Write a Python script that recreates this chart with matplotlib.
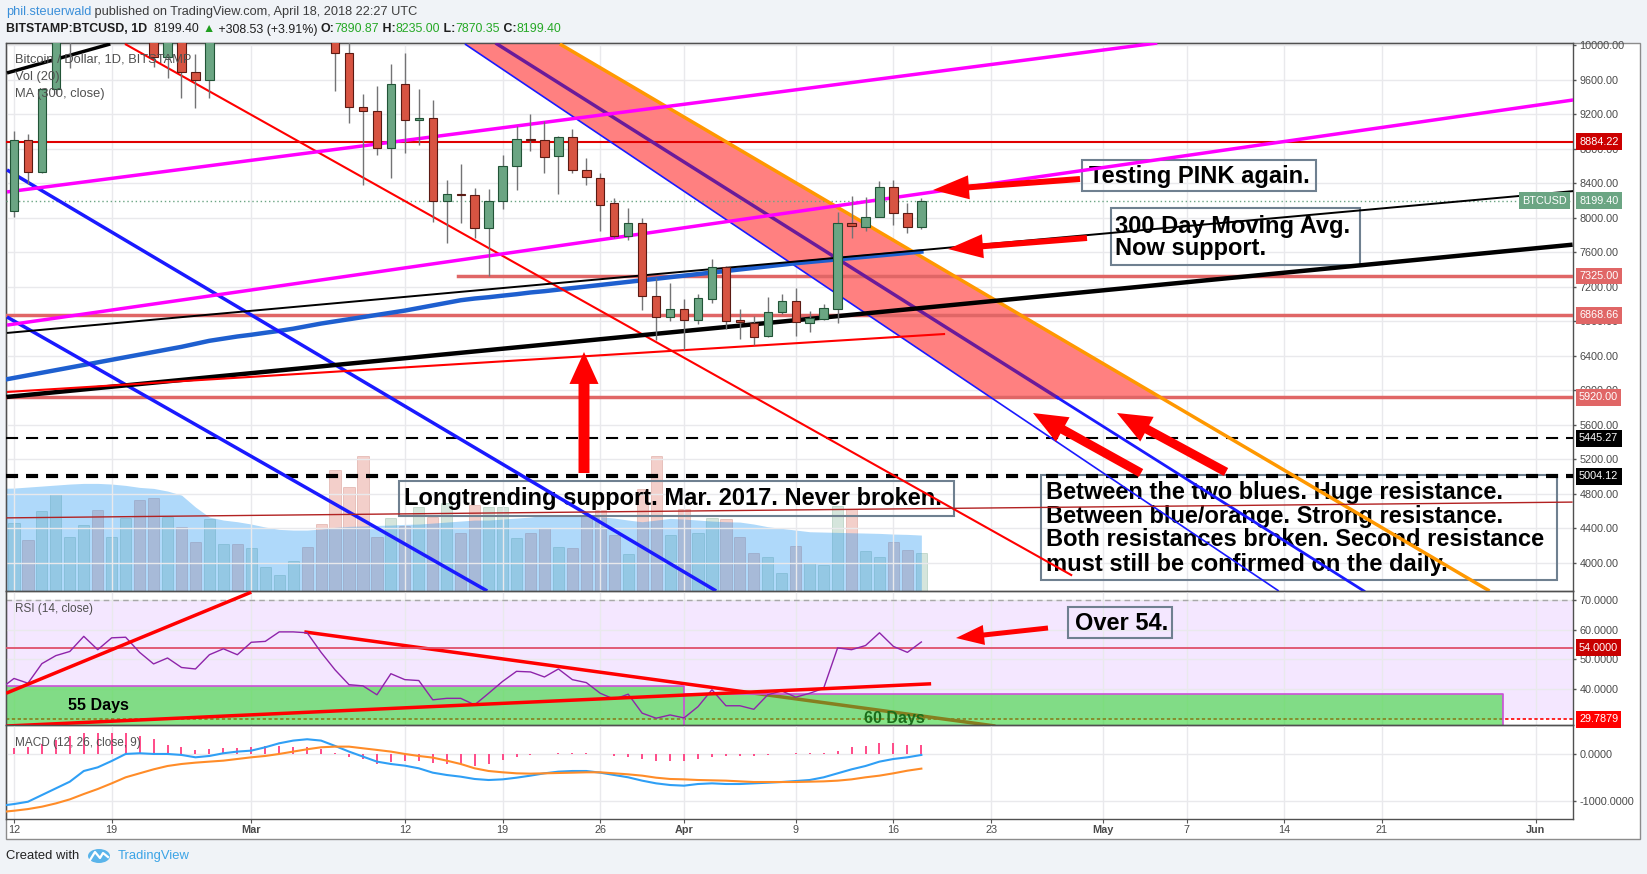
import numpy as np
import pandas as pd
import matplotlib
matplotlib.use("Agg")
import matplotlib.pyplot as plt
import matplotlib.dates as mdates
from matplotlib.patches import Rectangle, Polygon, Ellipse
from matplotlib.transforms import offset_copy
from matplotlib.ticker import FormatStrFormatter

W, H = 1647, 874
SANS = ["Liberation Sans", "DejaVu Sans"]
plt.rcParams["font.family"] = SANS

# ---------------- data (BITSTAMP:BTCUSD, 1D) ----------------
dates = pd.date_range("2018-02-12", "2018-04-18", freq="D")
# indicator lines also show the day before the first visible candle
ind_dates = pd.date_range("2018-02-11", "2018-04-18", freq="D")

opens = [8083, 8903, 8535, 9490, 10150, 10230, 11080, 10390, 11150, 11230, 10450, 9860, 10170, 9690, 9600, 10330, 10590,
         10320, 10900, 11030, 11440, 11490, 11420, 10720, 9910, 9290, 9240, 8806, 9548, 9134, 9160, 8199, 8273, 8262, 7880,
         8195, 8604, 8911, 8901, 8720, 8934, 8555, 8460, 8169, 7790, 7944, 7094, 6848,
         6941, 6816, 7060, 7427, 6816, 6778, 6634, 6913, 7040, 6785, 6825, 6944, 7937, 7898, 8014, 8361, 8060, 7890.87]
highs = [9010, 8972, 9510, 10200, 10300, 11090, 11270, 11250, 11790, 11300, 10930, 10440, 10480, 9900, 10480, 10880, 11070,
         11000, 11190, 11540, 11520, 11690, 11430, 10890, 10100, 9435, 9528, 9783, 9911, 9490, 9366, 8439, 8620, 8350, 8333,
         8727, 9065, 9204, 9117, 8950, 9030, 8697, 8518, 8227, 8111, 7995, 7304, 7245,
         7060, 7119, 7523, 7446, 6941, 6863, 7086, 7119, 7185, 6924, 7003, 8072, 8253, 8238, 8427, 8439, 8169, 8235.00]
lows = [8010, 8393, 8520, 9430, 9733, 10080, 10140, 10280, 11100, 10220, 9750, 9617, 9386, 9270, 9389, 10150, 10300,
        10240, 10800, 11000, 11050, 11390, 10580, 9470, 9103, 8381, 8728, 8460, 8755, 8844, 7956, 7709, 7940, 7770, 7330,
        8100, 8323, 8775, 8524, 8277, 8524, 8381, 7851, 7763, 7743, 6932, 6584, 6809,
        6468, 6769, 7010, 6712, 6592, 6526, 6614, 6887, 6630, 6676, 6816, 6778, 7770, 7851, 8007, 7918, 7828, 7870.35]
closes = [8903, 8535, 9490, 10150, 10230, 11080, 10390, 11150, 11230, 10450, 9860, 10170, 9690, 9600, 10330, 10590, 10320,
          10900, 11030, 11440, 11490, 11420, 10720, 9910, 9290, 9240, 8806, 9548, 9134, 9160, 8199, 8273, 8262, 7880, 8195,
          8604, 8911, 8898, 8709, 8934, 8555, 8468, 8149, 7790, 7944, 7094, 6855, 6941,
          6816, 7068, 7427, 6808, 6790, 6623, 6913, 7040, 6790, 6843, 6952, 7937, 7910, 8007, 8361, 8060, 7891, 8199.40]

volume = [20600, 15400, 24200, 29200, 16200, 19900, 24400, 16200, 21900, 27400, 27900, 22200, 19200, 14900, 21600, 14200,
          14200, 12900, 7400, 4900, 9200, 13400, 20200, 36400, 31200, 40600, 16200, 21900, 19600, 25200, 22200, 26600,
          17600, 25900, 25400, 25400, 15900, 17400, 18900, 13400, 12900, 22900, 24400, 16900, 11200, 30600, 40600, 16900,
          24600, 17400, 21900, 21600, 16400, 11600, 10400, 5600, 13600, 8600, 7900, 25600, 24600, 12200, 10200, 14900,
          12400, 11600]
vol_ma = [30900, 31000, 31300, 31600, 31900, 32200, 32400, 32400, 32200, 31800, 31200, 30900, 30100, 28900, 25300, 22300,
          21400, 20900, 20200, 19300, 18600, 18400, 18400, 18700, 19200, 19500, 19600, 19800, 19900, 20100, 20200, 20500,
          20800, 21100, 21400, 21400, 21700, 22000, 22300, 22900, 22900, 22800, 22600, 22400, 22000, 21400, 20900, 21400,
          21900, 21700, 21400, 21100, 20900, 20800, 20200, 19400, 18900, 18400, 17900, 17800, 17700, 17600, 17500, 17400,
          17200, 17100, 16900]
ma300 = [6115, 6145, 6175, 6205, 6235, 6265, 6295, 6325, 6355, 6385, 6415, 6445, 6475, 6505, 6540, 6575, 6600, 6625, 6645,
         6668, 6690, 6715, 6745, 6775, 6800, 6825, 6850, 6875, 6900, 6925, 6955, 6985, 7015, 7045, 7065, 7080, 7098, 7115,
         7135, 7150, 7168, 7186, 7204, 7222, 7240, 7258, 7276, 7294, 7312, 7330, 7348, 7366, 7384, 7402, 7420, 7438, 7456,
         7474, 7489, 7504, 7519, 7534, 7549, 7564, 7579, 7594, 7609]

rsi = [40.0, 43.6, 42.0, 48.6, 51.3, 52.7, 57.8, 53.3, 57.3, 57.5, 52.4, 48.5, 50.5, 47.3, 46.8, 51.6, 53.6, 51.6, 55.8,
       56.1, 59.3, 59.3, 59.0, 52.4, 46.5, 41.5, 41.1, 38.1, 45.2, 43.2, 42.9, 36.4, 36.9, 36.9, 34.7, 38.6, 42.6, 46.0,
       45.8, 44.1, 46.8, 43.2, 42.2, 38.6, 36.6, 38.3, 31.9, 30.2, 31.3, 30.3, 34.1, 39.8, 34.4, 34.4, 33.2, 38.1, 39.4,
       37.3, 38.6, 40.3, 53.9, 53.3, 54.7, 59.0, 54.4, 52.4, 55.9]

macd = [-1110, -1072, -1022, -878, -734, -590, -360, -281, -144, 7, 22, 7, 7, -14, -65, -36, 22, 58, 79, 151, 237, 295,
        324, 295, 180, 58, -50, -158, -209, -245, -302, -396, -446, -482, -532, -554, -540, -504, -460, -410, -374, -360,
        -360, -396, -446, -496, -568, -626, -662, -676, -640, -626, -640, -640, -626, -612, -597, -576, -554, -496, -410,
        -324, -252, -158, -101, -65, -14]
signal = [-1245, -1216, -1180, -1129, -1058, -971, -856, -748, -626, -496, -410, -324, -252, -209, -180, -158, -137, -101,
          -65, -36, 7, 58, 108, 151, 165, 165, 129, 94, 58, 7, -36, -72, -137, -209, -302, -360, -388, -410, -417, -410,
          -403, -396, -388, -388, -410, -432, -460, -504, -532, -540, -554, -561, -568, -583, -597, -597, -597, -597, -590,
          -583, -568, -540, -496, -460, -410, -353, -309]
hist = [130, 151, 223, 309, 396, 468, 468, 468, 468, 396, 324, 201, 151, 94, 108, 130, 130, 151, 180, 180, 151, 151, 108,
        36, -65, -108, -209, -158, -137, -137, -194, -209, -230, -252, -209, -122, -65, -14, 0, 22, 36, 36, 0, -29, -50,
        -108, -137, -137, -137, -108, -65, -36, -36, -36, -14, 0, 22, 22, 36, 79, 151, 180, 237, 237, 201, 201]

# horizontal levels drawn on the chart
level_red = 8884.22
levels_salmon = [7325.00, 6868.66, 5920.00]
level_7325_start = 31.8          # day offset where the 7325 line begins
levels_dashed = [5445.27, 5004.12]
last_price = 8199.40

# trend lines: (day offset from Feb 12, price) at both ends
line_black_top = [(-0.5, 9679), (6.9, 10015)]
line_red_fall = [(7.95, 10015), (75.8, 3855)]
line_blue_a = [(-0.5, 6851), (33.9, 3676)]
line_blue_b = [(-0.5, 8555), (50.3, 3676)]
band_low = [(32.3, 10015), (90.6, 3676)]
band_mid = [(34.6, 10015), (96.7, 3676)]
band_high = [(39.1, 10015), (105.7, 3676)]
band_floor = 5920.0
pink_upper = [(-0.5, 8300), (81.9, 10026)]
pink_lower = [(-0.5, 6757), (111.7, 9366)]
black_thin = [(-0.5, 6666), (111.7, 8310)]
black_thick = [(-0.55, 5924), (111.65, 7689)]
red_support = [(-0.5, 5982), (66.7, 6654)]
red_low = [(-0.55, 4523), (111.65, 4706)]

# RSI drawings
rsi_rise = [(-0.57, 38.6), (17.0, 72.7)]
rsi_fall = [(20.8, 59.3), (70.3, 27.56)]
rsi_base = [(-0.57, 27.56), (65.7, 41.8)]
box55 = (-3.0, 48.0, 41.2)       # start day, end day, top value
box60 = (48.0, 106.7, 38.3)
rsi_level = 54.0
rsi_low = 29.7879

tick_days = ["2018-02-12", "2018-02-19", "2018-03-01", "2018-03-12", "2018-03-19", "2018-03-26", "2018-04-01",
             "2018-04-09", "2018-04-16", "2018-04-23", "2018-05-01", "2018-05-07", "2018-05-14", "2018-05-21",
             "2018-06-01"]
tick_text = ["12", "19", "Mar", "12", "19", "26", "Apr", "9", "16", "23", "May", "7", "14", "21", "Jun"]

# ---------------- figure ----------------
fig = plt.figure(figsize=(W / 100, H / 100), dpi=100)
fig.patch.set_facecolor("#f0f3f7")


def box(x0, y0, x1, y1):
    return [x0 / W, 1 - y1 / H, (x1 - x0) / W, (y1 - y0) / H]


bg = fig.add_axes([0, 0, 1, 1], zorder=-5)
bg.set_xlim(0, W)
bg.set_ylim(H, 0)
bg.axis("off")
bg.add_patch(Rectangle((6, 43), 1634, 796, fc="white", ec="#8c8c8c", lw=1))

ov = fig.add_axes([0, 0, 1, 1], zorder=10)
ov.set_xlim(0, W)
ov.set_ylim(H, 0)
ov.axis("off")
PX = ov.transData

axv = fig.add_axes(box(6.3, 43, 1573, 591.4), zorder=1)
axv.axis("off")
ax = fig.add_axes(box(6.3, 43, 1573, 591.4), zorder=2, sharex=axv)
ax.patch.set_alpha(0)
rs = fig.add_axes(box(6.3, 591.4, 1573, 725), zorder=2, sharex=axv)
rs.patch.set_alpha(0)
md = fig.add_axes(box(6.3, 725, 1573, 819), zorder=2, sharex=axv)
md.patch.set_alpha(0)

xd = mdates.date2num(dates)
xi = mdates.date2num(ind_dates)
x0 = xd[0]
tick_x = mdates.date2num(pd.to_datetime(tick_days))


def seg(a, pts, **kw):
    (o0, p0), (o1, p1) = pts
    a.plot([x0 + o0, x0 + o1], [p0, p1], solid_capstyle="butt", **kw)


def at_price(pts, p):
    (o0, p0), (o1, p1) = pts
    return x0 + o0 + (p - p0) / (p1 - p0) * (o1 - o0)


# grids / axes styling
for a in (ax, rs, md):
    a.set_xticks(tick_x)
    a.grid(True, color="#e9e9ec", lw=1)
    a.set_axisbelow(True)
    a.yaxis.tick_right()
    a.tick_params(axis="y", length=2.5, width=1, color="#555555", labelsize=7.8, labelcolor="#4a4a4a", pad=2)
    for s in a.spines.values():
        s.set_color("#505050")
        s.set_linewidth(1)
for a in (ax, rs):
    a.tick_params(axis="x", length=0, labelbottom=False)
md.set_xticklabels(tick_text)
md.tick_params(axis="x", length=3, color="#555555", labelsize=7.8, labelcolor="#4a4a4a", pad=1.5)
for lbl, t in zip(md.get_xticklabels(), tick_text):
    if t.isalpha():
        lbl.set_fontweight("bold")

# ---------------- volume ----------------
o, hi, lo, c = map(np.array, (opens, highs, lows, closes))
up = c >= o
axv.bar(xd, volume, width=0.8, color=["#6ba583" if u else "#d75442" for u in up], alpha=0.28,
        edgecolor=["#4c8a66" if u else "#b04a3c" for u in up], lw=0.6)
axv.fill_between(xi, vol_ma, color="#2196f3", alpha=0.36, lw=0)
axv.set_ylim(0, 164520)

# ---------------- price pane ----------------
ax.axhline(level_red, color="#e00000", lw=1.5, zorder=3)
ax.plot([x0 + level_7325_start, x0 + 120], [levels_salmon[0]] * 2, color="#e06666", lw=2.5, zorder=3)
for lv in levels_salmon[1:]:
    ax.axhline(lv, color="#e06666", lw=2.5, zorder=3)
ax.axhline(levels_dashed[0], color="black", lw=1.5, ls=(0, (5.8, 3.8)), zorder=3)
ax.axhline(levels_dashed[1], color="black", lw=3, ls=(0, (2.9, 1.9)), zorder=3)
ax.axhline(last_price, color="#6ba583", lw=1, ls=(0, (1, 2)), zorder=3)

top = 10200
band = [(at_price(band_low, band_floor), band_floor), (at_price(band_low, top), top),
        (at_price(band_high, top), top), (at_price(band_high, band_floor), band_floor)]
ax.add_patch(Polygon(band, fc="#ff8080", ec="none", zorder=2.5))
seg(ax, band_low, color="#1a1aff", lw=1.2, zorder=4)
seg(ax, band_high, color="#ff9800", lw=2.5, zorder=4)
xm = at_price(band_mid, band_floor)
ax.plot([x0 + band_mid[0][0], xm], [band_mid[0][1], band_floor], color="#6a1b9a", lw=2.5, zorder=4)
ax.plot([xm, x0 + band_mid[1][0]], [band_floor, band_mid[1][1]], color="#1a1aff", lw=2, zorder=4)

ax.plot(xi, ma300, color="#1e5fcf", lw=3.2, zorder=4)
seg(ax, line_black_top, color="black", lw=2.5, zorder=4)
seg(ax, line_red_fall, color="#ff0000", lw=1.5, zorder=4)
seg(ax, line_blue_a, color="#1a1aff", lw=2.5, zorder=4)
seg(ax, line_blue_b, color="#1a1aff", lw=2.5, zorder=4)
seg(ax, pink_upper, color="#ff00ff", lw=2.5, zorder=4)
seg(ax, pink_lower, color="#ff00ff", lw=2.5, zorder=4)
seg(ax, black_thin, color="black", lw=1.4, zorder=4)
seg(ax, black_thick, color="black", lw=3.2, zorder=4)
seg(ax, red_support, color="#ff0000", lw=1.5, zorder=4)
seg(ax, red_low, color="#b22222", lw=1, zorder=4)

# candles
ax.vlines(xd, lo, hi, color="#737375", lw=1, zorder=6)
ax.bar(xd, np.maximum(np.abs(c - o), 12), bottom=np.minimum(o, c), width=0.6,
       color=["#6ba583" if u else "#d75442" for u in up],
       edgecolor=["#225437" if u else "#5b1a13" for u in up], lw=0.8, zorder=7)

ax.set_ylim(3671, 10026)
ax.set_yticks(np.arange(4000, 10001, 400))
ax.yaxis.set_major_formatter(FormatStrFormatter("%.2f"))

# ---------------- RSI pane ----------------
rs.axhspan(30, 70, color="#9915ff", alpha=0.1, lw=0, zorder=0.5)
rs.axhline(70, color="#a8a8a8", lw=1, ls=(0, (4, 3)), zorder=1)
rs.axhline(rsi_low, color="#ff0000", lw=1.2, ls=(0, (2, 1.5)), zorder=1)
seg(rs, rsi_fall, color="#ff0000", lw=2.5, zorder=1.5)
for b0, b1, btop in (box55, box60):
    rs.add_patch(Rectangle((x0 + b0, 20), b1 - b0, btop - 20, fc="#35d535", alpha=0.6, ec="none", zorder=2))
    rs.plot([x0 + b0, x0 + b1, x0 + b1], [btop, btop, 20], color="#cc4fd8", lw=1.2, zorder=2.1)
rs.axhline(rsi_level, color="#e0506a", lw=1.3, zorder=3)
rs.plot(xi, rsi, color="#8e24aa", lw=1, zorder=3)
seg(rs, rsi_rise, color="#ff0000", lw=2.5, zorder=4)
seg(rs, rsi_base, color="#ff0000", lw=2.5, zorder=4)
rs.set_ylim(27.91, 72.95)
rs.set_yticks([40, 50, 60, 70])
rs.yaxis.set_major_formatter(FormatStrFormatter("%.4f"))

# ---------------- MACD pane ----------------
md.vlines(xd, 0, hist, color="#ff3d7f", lw=1.3, zorder=2)
md.plot(xi, macd, color="#2f9ff5", lw=1.5, zorder=3)
md.plot(xi, signal, color="#ff8c28", lw=1.5, zorder=3)
md.set_ylim(-1394, 631)
md.set_yticks([-1000, 0])
md.yaxis.set_major_formatter(FormatStrFormatter("%.4f"))

axv.set_xlim(x0 - 0.55, x0 + 111.68)


# ---------------- price tags on the scale ----------------
def tag(a, y, text, fc):
    tr = offset_copy(a.get_yaxis_transform(), fig=fig, x=6, y=0, units="dots")
    a.text(1.0, y, text, transform=tr, ha="left", va="center", fontsize=7.8, color="white",
           bbox=dict(boxstyle="square,pad=0.3", fc=fc, ec="none"), zorder=20, clip_on=False)


tag(ax, level_red, "%.2f" % level_red, "#cc0000")
tag(ax, last_price, "%.2f" % last_price, "#6ba583")
for lv in levels_salmon:
    tag(ax, lv, "%.2f" % lv, "#e06666")
for lv in levels_dashed:
    tag(ax, lv, "%.2f" % lv, "#000000")
tag(rs, rsi_level, "%.4f" % rsi_level, "#c80000")
tag(rs, rsi_low, "%.4f" % rsi_low, "#ff0000")
ax.text(1.0, last_price, "BTCUSD", transform=offset_copy(ax.get_yaxis_transform(), fig=fig, x=-6, y=0, units="dots"),
        ha="right", va="center", fontsize=7.8, color="white",
        bbox=dict(boxstyle="square,pad=0.3", fc="#6ba583", ec="none"), zorder=20)

# ---------------- annotation boxes (pixel coordinates) ----------------
BOLD = dict(family=SANS, weight="bold", color="black")


def note(a, x_left, y_centers, lines, rect, size=17):
    for yc, s in zip(y_centers, lines):
        a.text(x_left, yc, s, transform=PX, fontsize=size, va="center", ha="left", zorder=1.5, clip_on=False, **BOLD)
    rx0, ry0, rx1, ry1 = rect
    a.add_patch(Rectangle((rx0, ry0), rx1 - rx0, ry1 - ry0, transform=PX, fill=False, ec="#6f8090", lw=1.5,
                          zorder=1.5, clip_on=False))


note(ax, 1089, [176], ["Testing PINK again."], (1082, 160, 1316, 191))
note(ax, 1115, [226, 249], ["300 Day Moving Avg.", "Now support."], (1111, 208, 1360, 265))
note(ax, 404, [499], ["Longtrending support. Mar. 2017. Never broken."], (399, 481, 954, 516))
note(ax, 1046, [492.5, 516, 540, 564],
     ["Between the two blues. Huge resistance.", "Between blue/orange. Strong resistance.",
      "Both resistances broken. Second resistance", "must still be confirmed on the daily."],
     (1041, 475, 1557, 580))
note(rs, 1075, [623], ["Over 54."], (1068, 607, 1172, 638))
rs.text(68, 705.5, "55 Days", transform=PX, fontsize=11.5, va="center", ha="left", zorder=5, **BOLD)
rs.text(864, 718.5, "60 Days", transform=PX, fontsize=11.5, va="center", ha="left", zorder=5, clip_on=True,
        family=SANS, weight="bold", color="#1b6e1b")


def arrow(xf, yf, xt, yt, shaft, head_w, head_l):
    style = "simple,head_length=%.1f,head_width=%.1f,tail_width=%.1f" % (head_l * 0.72, head_w * 0.72, shaft * 0.72)
    ov.annotate("", xy=(xt, yt), xytext=(xf, yf),
                arrowprops=dict(arrowstyle=style, fc="#ff0000", ec="none", shrinkA=0, shrinkB=0, mutation_scale=1))


arrow(1080, 179, 933, 190, 6, 24, 36)
arrow(1087, 238, 948, 249, 6, 24, 35)
arrow(584, 473, 584, 352, 11, 29, 32)
arrow(1141, 473, 1033, 413, 9, 28, 34)
arrow(1226, 472, 1117, 413, 9, 28, 34)
arrow(1048, 628, 956, 638, 5, 20, 28)

# ---------------- pane legends, header, footer ----------------
for yc, s in ((60, "Bitcoin / Dollar, 1D, BITSTAMP"), (77, "Vol (20)"), (94.5, "MA (300, close)")):
    ov.text(15, yc, s, fontsize=9.3, color="#505050", va="center", ha="left")
ov.text(15, 609, "RSI (14, close)", fontsize=8.5, color="#505050", va="center", ha="left")
ov.text(15, 743, "MACD (12, 26, close, 9)", fontsize=8.5, color="#505050", va="center", ha="left")


def run_text(x, y, parts, size):
    r = fig.canvas.get_renderer()
    for s, col, wt in parts:
        t = ov.text(x, y, s, color=col, fontsize=size, fontweight=wt, va="center", ha="left",
                    family=["Liberation Sans", "DejaVu Sans"])
        x += t.get_window_extent(renderer=r).width


GREEN = "#26a826"
run_text(6, 12, [("phil.steuerwald", "#3a8fd9", "normal"),
                 (" published on TradingView.com, April 18, 2018 22:27 UTC", "#3c3c3c", "normal")], 9.2)
run_text(6, 29.5, [("BITSTAMP:BTCUSD, 1D", "#1e1e1e", "bold"), ("  8199.40 ", "#1e1e1e", "normal"),
                   ("\u25b2", "#1f9d1f", "normal"), (" +308.53 (+3.91%) ", "#1e1e1e", "normal"),
                   ("O:", "#1e1e1e", "bold"), ("7890.87", GREEN, "normal"), (" H:", "#1e1e1e", "bold"),
                   ("8235.00", GREEN, "normal"), (" L:", "#1e1e1e", "bold"), ("7870.35", GREEN, "normal"),
                   (" C:", "#1e1e1e", "bold"), ("8199.40", GREEN, "normal")], 8.9)

ov.text(6, 856, "Created with", fontsize=9.4, color="#222222", va="center", ha="left")
ov.add_patch(Ellipse((99, 856), 22, 14, fc="#5ab4ea", ec="none"))
ov.plot([90, 95, 100, 103, 108], [860, 852, 858, 853, 857], color="white", lw=1.6)
ov.text(118, 856, "TradingView", fontsize=9.4, color="#3ba4e6", va="center", ha="left")

fig.savefig("out.png", dpi=100, facecolor=fig.get_facecolor())
